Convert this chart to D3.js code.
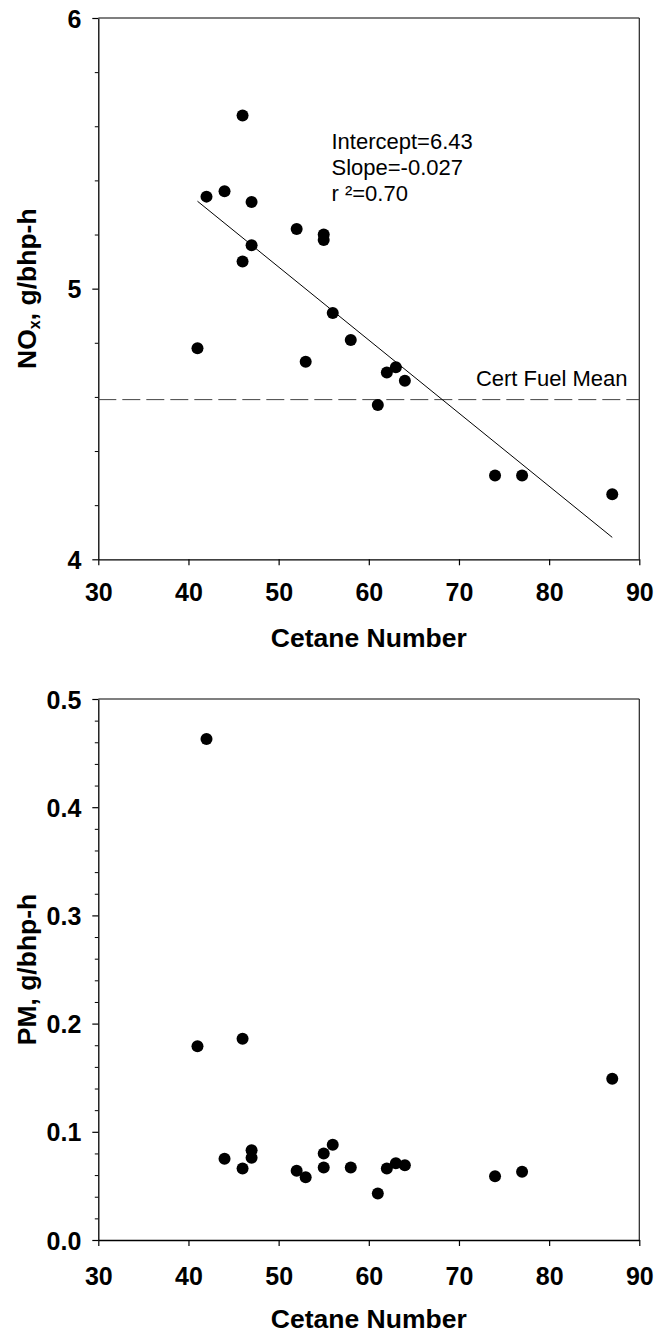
<!DOCTYPE html>
<html>
<head>
<meta charset="utf-8">
<script src="https://cdn.jsdelivr.net/npm/d3@7"></script>
<style>
  body { margin: 0; background: #fff; }
  text { font-family: "Liberation Sans", Arial, Helvetica, sans-serif; }
</style>
</head>
<body>
<svg id="chart" width="655" height="1336"></svg>
<script>
// NOx emissions versus cetane number
const noxCetane = [46, 42, 44, 47, 52, 55, 55, 47, 46, 56, 41, 58, 53, 62, 63, 64, 61, 74, 77, 87];
const noxValues = [5.64, 5.34, 5.36, 5.32, 5.22, 5.20, 5.18, 5.16, 5.10, 4.91, 4.78, 4.81, 4.73, 4.69, 4.71, 4.66, 4.57, 4.31, 4.31, 4.24];

// PM emissions versus cetane number
const pmCetane = [42, 41, 46, 87, 44, 46, 47, 47, 52, 53, 55, 55, 56, 58, 61, 62, 63, 64, 74, 77];
const pmValues = [0.463, 0.179, 0.186, 0.149, 0.075, 0.066, 0.083, 0.076, 0.064, 0.058, 0.080, 0.067, 0.088, 0.067, 0.043, 0.066, 0.071, 0.069, 0.059, 0.063];

// Linear fit of NOx on cetane number, and the certification fuel mean
const fitIntercept = 6.43;
const fitSlope = -0.027;
const fitR2 = "0.70";
const certFuelMean = 4.59;

// Axis ticks
const xTicks = [30, 40, 50, 60, 70, 80, 90];
const noxTicks = [4, 5, 6];
const noxMinorTicks = [4.2, 4.4, 4.6, 4.8, 5.2, 5.4, 5.6, 5.8];
const pmTicks = [0.0, 0.1, 0.2, 0.3, 0.4, 0.5];
const pmMinorTicks = d3.range(0, 0.5, 0.02).filter((v, i) => i % 5 !== 0);

const svg = d3.select("#chart");
const plotLeft = 98.3, plotRight = 639.3;

function drawPanel(cfg) {
  const g = svg.append("g");
  const x = d3.scaleLinear().domain([30, 90]).range([plotLeft, plotRight]);
  const y = d3.scaleLinear().domain(cfg.domain).range([cfg.bottom, cfg.top]);

  // frame: top and right edges
  g.append("line").attr("x1", plotLeft).attr("x2", plotRight).attr("y1", cfg.top).attr("y2", cfg.top)
    .attr("stroke", "#000").attr("stroke-width", 1.2);
  g.append("line").attr("x1", plotRight).attr("x2", plotRight).attr("y1", cfg.top).attr("y2", cfg.bottom)
    .attr("stroke", "#222").attr("stroke-width", 1.2);

  // x axis
  const xa = g.append("g").attr("transform", `translate(0,${cfg.bottom})`)
    .call(d3.axisBottom(x).tickValues(xTicks).tickSize(6).tickSizeOuter(0).tickFormat(d3.format("d")));
  xa.select(".domain").attr("stroke", "#000").attr("stroke-width", 1.3);
  xa.selectAll(".tick line").attr("stroke", "#000").attr("stroke-width", 1.2);
  xa.selectAll(".tick text")
    .attr("y", cfg.xLabelOffset).attr("dy", null)
    .attr("font-size", 25).attr("font-weight", "bold").attr("fill", "#000");

  // y axis, minor then major ticks
  const ym = g.append("g").attr("transform", `translate(${plotLeft},0)`)
    .call(d3.axisLeft(y).tickValues(cfg.minor).tickSize(3.5).tickSizeOuter(0).tickFormat(""));
  ym.select(".domain").remove();
  ym.selectAll(".tick line").attr("stroke", "#000").attr("stroke-width", 1);

  const ya = g.append("g").attr("transform", `translate(${plotLeft},0)`)
    .call(d3.axisLeft(y).tickValues(cfg.ticks).tickSize(6).tickSizeOuter(0).tickFormat(cfg.format));
  ya.select(".domain").attr("stroke", "#000").attr("stroke-width", 1.3);
  ya.selectAll(".tick line").attr("stroke", "#000").attr("stroke-width", 1.2);
  ya.selectAll(".tick text")
    .attr("x", -17).attr("dy", "0.36em")
    .attr("font-size", 25).attr("font-weight", "bold").attr("fill", "#000");

  // x title
  g.append("text")
    .attr("x", (plotLeft + plotRight) / 2).attr("y", cfg.bottom + 88)
    .attr("text-anchor", "middle").attr("font-size", 26.5).attr("font-weight", "bold")
    .text("Cetane Number");

  // y title
  const yt = g.append("text")
    .attr("transform", `translate(36,${(cfg.top + cfg.bottom) / 2}) rotate(-90)`)
    .attr("text-anchor", "middle").attr("font-size", 26.5).attr("font-weight", "bold");
  cfg.yTitle(yt);

  return { g, x, y };
}

// ---- NOx panel ----
const noxPanel = drawPanel({
  top: 18, bottom: 559.3, domain: [4, 6],
  ticks: noxTicks, minor: noxMinorTicks, format: d3.format("d"),
  xLabelOffset: 41.5,
  yTitle: t => {
    t.append("tspan").text("NO");
    t.append("tspan").attr("font-size", 16).attr("dy", 4).text("x");
    t.append("tspan").attr("dy", -4).text(", g/bhp-h");
  }
});

// certification fuel mean
noxPanel.g.append("line")
  .attr("x1", noxPanel.x(30)).attr("x2", noxPanel.x(90))
  .attr("y1", noxPanel.y(certFuelMean)).attr("y2", noxPanel.y(certFuelMean))
  .attr("stroke", "#444").attr("stroke-width", 1).attr("stroke-dasharray", "18,6");
noxPanel.g.append("text")
  .attr("x", 627.5).attr("y", 386).attr("text-anchor", "end")
  .attr("font-size", 22).text("Cert Fuel Mean");

// regression line over the data range
const cnExtent = d3.extent(noxCetane);
noxPanel.g.append("line")
  .attr("x1", noxPanel.x(cnExtent[0])).attr("y1", noxPanel.y(fitIntercept + fitSlope * cnExtent[0]))
  .attr("x2", noxPanel.x(cnExtent[1])).attr("y2", noxPanel.y(fitIntercept + fitSlope * cnExtent[1]))
  .attr("stroke", "#000").attr("stroke-width", 1);

// fit statistics
const stats = noxPanel.g.append("text").attr("font-size", 22).attr("fill", "#000");
[`Intercept=${fitIntercept}`, `Slope=${fitSlope}`, `r \u00B2=${fitR2}`].forEach((s, i) => {
  stats.append("tspan").attr("x", 331.5).attr("y", 149 + i * 26).text(s);
});

noxPanel.g.append("g").selectAll("circle")
  .data(noxCetane.map((c, i) => [c, noxValues[i]]))
  .join("circle")
  .attr("cx", d => noxPanel.x(d[0])).attr("cy", d => noxPanel.y(d[1]))
  .attr("r", 6).attr("fill", "#000");

// ---- PM panel ----
const pmPanel = drawPanel({
  top: 699, bottom: 1240, domain: [0, 0.5],
  ticks: pmTicks, minor: pmMinorTicks, format: d3.format(".1f"),
  xLabelOffset: 45,
  yTitle: t => t.text("PM, g/bhp-h")
});

pmPanel.g.append("g").selectAll("circle")
  .data(pmCetane.map((c, i) => [c, pmValues[i]]))
  .join("circle")
  .attr("cx", d => pmPanel.x(d[0])).attr("cy", d => pmPanel.y(d[1]))
  .attr("r", 6).attr("fill", "#000");
</script>
</body>
</html>
